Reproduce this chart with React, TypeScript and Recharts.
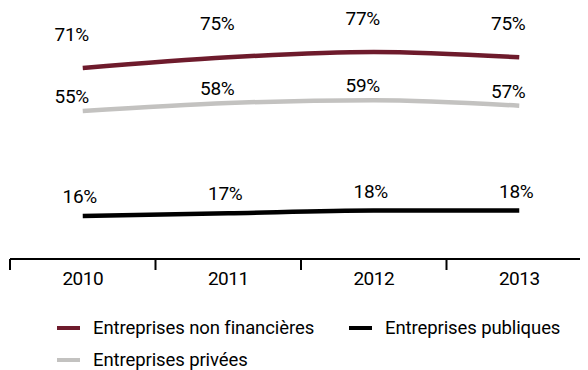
import React from "react";
import { LineChart, Line, XAxis, YAxis, Legend, LabelList } from "recharts";

const years = ["2010", "2011", "2012", "2013"];
const nonFinancieres = [71, 75, 77, 75];
const privees = [55, 58, 59, 57];
const publiques = [16, 17, 18, 18];

const data = years.map((year, i) => ({
  year,
  nonFin: nonFinancieres[i],
  privees: privees[i],
  publiques: publiques[i],
}));

const FONT = "Roboto, sans-serif";
const FS = 19;
const CHART_W = 586;
const MARGIN = { top: 9, right: 2, bottom: 0, left: 2 };
const BAND = (CHART_W - MARGIN.left - MARGIN.right) / years.length;

const series = [
  { key: "nonFin", name: "Entreprises non financières", color: "#6e1b2c", dx: -11, dy: -27, col: 0, row: 0 },
  { key: "privees", name: "Entreprises privées", color: "#c3c2c0", dx: -11, dy: -8, col: 0, row: 1 },
  { key: "publiques", name: "Entreprises publiques", color: "#000000", dx: -3, dy: -13, col: 1, row: 0 },
];

const YearTick = (props: any) => {
  const { x, y, payload } = props;
  const edge = x - BAND / 2;
  return (
    <g>
      <line x1={edge} y1={y} x2={edge} y2={y + 11} stroke="#000" strokeWidth={2} />
      <text x={x} y={y + 26} textAnchor="middle" fontSize={FS} fill="#000" fontFamily={FONT} letterSpacing={-0.5}>
        {payload.value}
      </text>
    </g>
  );
};

const makeLabel = (dx: number, dy: number) => (props: any) => {
  const { x, y, value } = props;
  return (
    <text x={x + dx} y={y + dy} textAnchor="middle" fontSize={FS} fill="#000" fontFamily={FONT} letterSpacing={-0.3}>
      {value}%
    </text>
  );
};

const LegendBox = () => (
  <div style={{ position: "relative", height: 81, width: 580, fontSize: 18.5, fontFamily: FONT, letterSpacing: -0.1 }}>
    {series.map((s) => (
      <div
        key={s.key}
        style={{
          position: "absolute",
          left: s.col === 0 ? 47 : 339,
          top: s.row === 0 ? 27 : 59,
          display: "flex",
          alignItems: "center",
          height: 24,
          whiteSpace: "nowrap",
        }}
      >
        <span style={{ display: "inline-block", width: 23, height: 4, background: s.color, marginRight: 13 }} />
        <span>{s.name}</span>
      </div>
    ))}
  </div>
);

export default function App() {
  return (
    <div style={{ width: 580, overflow: "hidden", fontFamily: FONT }}>
      <LineChart width={CHART_W} height={362} data={data} margin={MARGIN} style={{ overflow: "visible" }}>
        <XAxis
          dataKey="year"
          axisLine={{ stroke: "#000", strokeWidth: 2 }}
          tickLine={false}
          tickSize={0}
          tickMargin={0}
          height={30}
          padding={{ left: BAND / 2, right: BAND / 2 }}
          tick={<YearTick />}
          interval={0}
        />
        <YAxis hide domain={[0, 90]} />
        <Legend verticalAlign="bottom" height={81} content={<LegendBox />} />
        {series.map((s) => (
          <Line
            key={s.key}
            type="monotone"
            dataKey={s.key}
            name={s.name}
            stroke={s.color}
            strokeWidth={4.5}
            dot={false}
            isAnimationActive={false}
          >
            <LabelList dataKey={s.key} content={makeLabel(s.dx, s.dy)} />
          </Line>
        ))}
      </LineChart>
    </div>
  );
}
